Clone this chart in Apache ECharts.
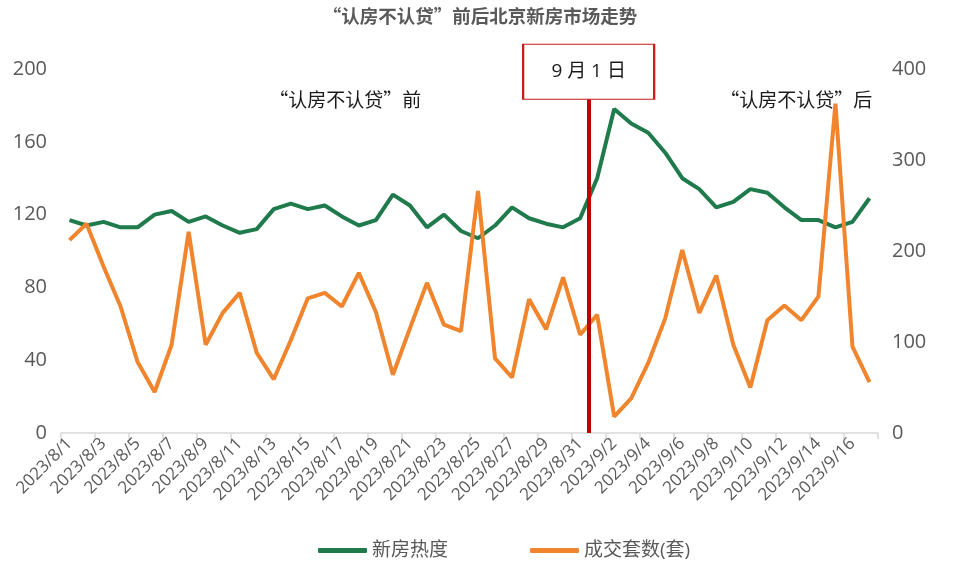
<!DOCTYPE html>
<html>
<head>
<meta charset="utf-8">
<script src="https://cdn.jsdelivr.net/npm/echarts@6/dist/echarts.min.js"></script>
<style>html,body{margin:0;padding:0;background:#fff}#c{width:960px;height:576px}</style>
</head>
<body>
<div id="c"></div>
<script>
var categories = ['2023/8/1','2023/8/2','2023/8/3','2023/8/4','2023/8/5','2023/8/6','2023/8/7','2023/8/8','2023/8/9','2023/8/10',
'2023/8/11','2023/8/12','2023/8/13','2023/8/14','2023/8/15','2023/8/16','2023/8/17','2023/8/18','2023/8/19','2023/8/20',
'2023/8/21','2023/8/22','2023/8/23','2023/8/24','2023/8/25','2023/8/26','2023/8/27','2023/8/28','2023/8/29','2023/8/30','2023/8/31',
'2023/9/1','2023/9/2','2023/9/3','2023/9/4','2023/9/5','2023/9/6','2023/9/7','2023/9/8','2023/9/9','2023/9/10',
'2023/9/11','2023/9/12','2023/9/13','2023/9/14','2023/9/15','2023/9/16','2023/9/17'];
var heat = [117,114,116,113,113,120,122,116,119,114,110,112,123,126,123,125,
119,114,117,131,125,113,120,111,107,114,124,118,115,113,118,
140,178,170,165,154,140,134,124,127,134,132,124,117,117,113,116,129];
var deals = [212,230,183,139,78,45,97,221,97,132,154,88,59,102,148,154,
139,176,133,64,115,165,119,112,266,82,61,147,114,171,108,
130,18,38,77,126,201,132,173,97,50,124,140,124,150,362,95,56];
var leftTicks = {min:0, max:200, interval:40};
var rightTicks = {min:0, max:400, interval:100};
var policyIndex = 31;   // boundary before 2023/9/1
var policyLabel = '9 月 1 日';
var beforeText = '“认房不认贷”前';
var afterText = '“认房不认贷”后';
var titleText = '“认房不认贷”前后北京新房市场走势';

var FONT = '"Open Sans","Noto Sans CJK SC",sans-serif';
var CJK = '"Noto Sans CJK SC","Open Sans",sans-serif';
var GRAY = '#595959';
var chart = echarts.init(document.getElementById('c'));
chart.setOption({
  animation:false,
  textStyle:{fontFamily:FONT},
  title:{text:titleText,left:'center',top:2,textStyle:{fontFamily:CJK,fontSize:18.5,fontWeight:'bold',color:GRAY}},
  grid:{left:61,right:82,top:69,bottom:143},
  legend:{left:313,top:536,itemWidth:49,itemHeight:5,itemGap:82,icon:'roundRect',
    textStyle:{fontFamily:FONT,fontSize:19,color:GRAY},data:['新房热度','成交套数(套)']},
  xAxis:[{type:'category',data:categories,boundaryGap:true,
    axisLine:{lineStyle:{color:'#d9d9d9',width:1.5}},
    axisTick:{show:true,interval:1,length:6,lineStyle:{color:'#d9d9d9',width:1.5}},
    axisLabel:{interval:1,rotate:45,fontSize:17,color:GRAY,fontFamily:FONT,margin:8}},
    {type:'value',min:0,max:categories.length,show:false}],
  yAxis:[{type:'value',min:leftTicks.min,max:leftTicks.max,interval:leftTicks.interval,
    splitLine:{show:false},axisLine:{show:false},axisTick:{show:false},
    axisLabel:{fontSize:20,color:GRAY,margin:14,fontFamily:FONT}},
    {type:'value',min:rightTicks.min,max:rightTicks.max,interval:rightTicks.interval,
    splitLine:{show:false},axisLine:{show:false},axisTick:{show:false},
    axisLabel:{fontSize:20,color:GRAY,margin:14,fontFamily:FONT}}],
  series:[
    {name:'新房热度',type:'line',data:heat,yAxisIndex:0,symbol:'none',z:3,
      lineStyle:{color:'#1f7a4c',width:4},itemStyle:{color:'#1f7a4c'}},
    {name:'成交套数(套)',type:'line',data:deals,yAxisIndex:1,symbol:'none',z:3,
      lineStyle:{color:'#f0852d',width:4},itemStyle:{color:'#f0852d'}},
    {name:'marker',type:'line',xAxisIndex:1,yAxisIndex:0,data:[],z:5,
      markLine:{silent:true,symbol:'none',label:{show:false},
        lineStyle:{color:'#c00000',width:4,type:'solid'},
        data:[{xAxis:policyIndex}]},
      markPoint:{silent:true,
        data:[
          {coord:[policyIndex,198.5],symbol:'rect',symbolSize:[131,55],
            itemStyle:{color:'#fff',borderColor:'#c81e1e',borderWidth:1.5},
            label:{show:true,position:'inside',formatter:policyLabel,fontSize:19,color:'#1a1a1a',fontFamily:FONT}},
          {coord:[16.7,183],symbol:'rect',symbolSize:0,
            label:{show:true,position:'inside',formatter:beforeText,fontSize:19,color:'#1a1a1a',fontFamily:CJK}},
          {coord:[43.2,183],symbol:'rect',symbolSize:0,
            label:{show:true,position:'inside',formatter:afterText,fontSize:19,color:'#1a1a1a',fontFamily:CJK}}
        ]}}
  ]
});
</script>
</body>
</html>
